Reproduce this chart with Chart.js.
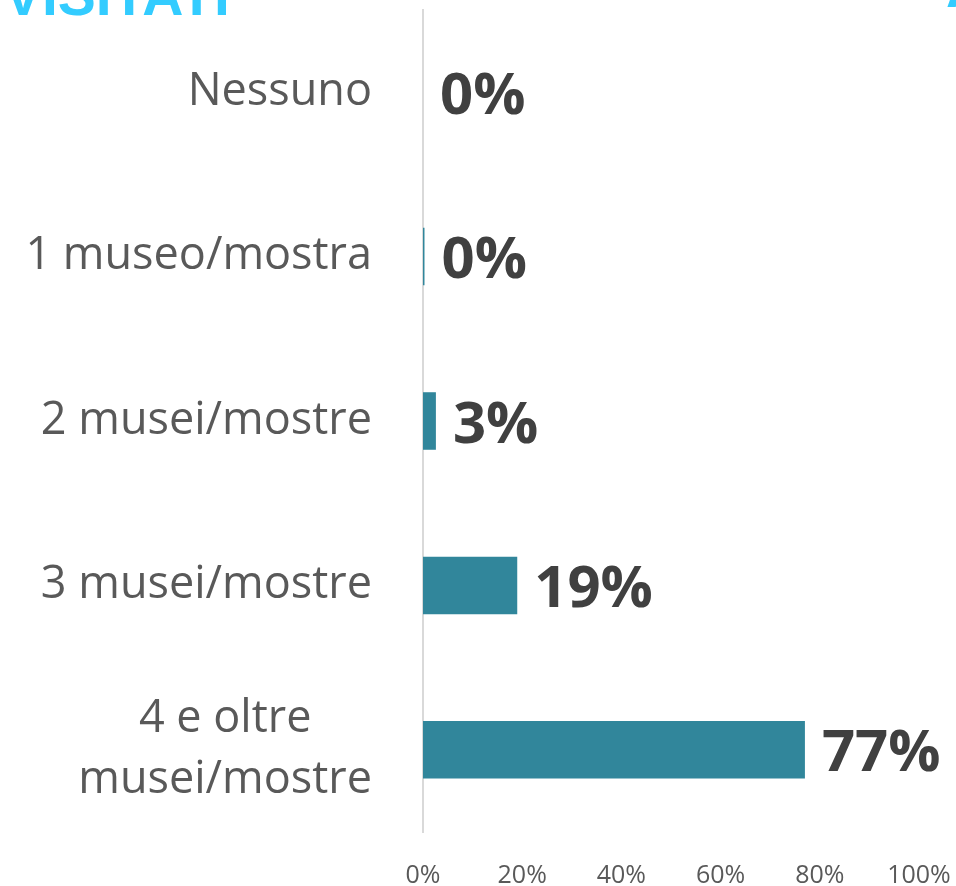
<!DOCTYPE html>
<html>
<head>
<meta charset="utf-8">
<script src="https://cdn.jsdelivr.net/npm/chart.js@4.4.0/dist/chart.umd.min.js"></script>
<style>
  html, body { margin: 0; padding: 0; background: #ffffff; }
  #wrap { position: relative; width: 956px; height: 886px; overflow: hidden; }
</style>
</head>
<body>
<div id="wrap"><canvas id="museumsChart" width="956" height="886"></canvas></div>
<script>
// Data
const categories = [
    'Nessuno',
    '1 museo/mostra',
    '2 musei/mostre',
    '3 musei/mostre',
    ['4 e oltre', 'musei/mostre']
];
const shares = [0, 0.3, 2.6, 19, 77];
const xTicks = [0, 20, 40, 60, 80, 100];

const BAR_COLOR = '#31869b';
const LABEL_GREY = '#595959';
const VALUE_GREY = '#404040';

// Cropped heading pieces at the top edge
const headingPlugin = {
    id: 'heading',
    beforeDraw(chart) {
        const ctx = chart.ctx;
        ctx.save();
        ctx.fillStyle = '#33ccff';
        ctx.font = "bold 57px 'Liberation Sans', Arial, sans-serif";
        ctx.textBaseline = 'alphabetic';
        ctx.textAlign = 'left';
        ctx.fillText('VISITATI', 4, 15);
        ctx.fillText('A', 946, 7);
        ctx.restore();
    }
};

// Category labels, right aligned; wrapped lines centred on each other
const categoryLabelsPlugin = {
    id: 'categoryLabels',
    afterDraw(chart) {
        const ctx = chart.ctx;
        const yScale = chart.scales.y;
        const right = 372;
        const lineHeight = 61;
        ctx.save();
        ctx.font = "45px 'Open Sans', sans-serif";
        ctx.fillStyle = LABEL_GREY;
        ctx.textBaseline = 'middle';
        ctx.textAlign = 'center';
        categories.forEach((label, i) => {
            const lines = Array.isArray(label) ? label : [label];
            const maxW = Math.max(...lines.map(l => ctx.measureText(l).width));
            const cx = right - maxW / 2;
            const cy = yScale.getPixelForValue(i);
            const startY = cy - (lines.length - 1) * lineHeight / 2;
            lines.forEach((line, k) => {
                ctx.fillText(line, cx, startY + k * lineHeight);
            });
        });
        ctx.restore();
    }
};

// Value labels to the right of each bar
const valueLabelsPlugin = {
    id: 'valueLabels',
    afterDatasetsDraw(chart) {
        const ctx = chart.ctx;
        const meta = chart.getDatasetMeta(0);
        ctx.save();
        ctx.font = "bold 58px 'Open Sans', sans-serif";
        ctx.fillStyle = VALUE_GREY;
        ctx.textBaseline = 'middle';
        ctx.textAlign = 'left';
        meta.data.forEach((bar, i) => {
            ctx.fillText(Math.round(shares[i]) + '%', bar.x + 17, bar.y + 5);
        });
        ctx.restore();
    }
};

const chartData = {
    labels: categories,
    datasets: [{
        data: shares,
        backgroundColor: BAR_COLOR,
        borderWidth: 0,
        categoryPercentage: 1,
        barPercentage: 0.35
    }]
};

const options = {
    indexAxis: 'y',
    responsive: false,
    animation: false,
    devicePixelRatio: 1,
    layout: {
        padding: { top: 10, right: 37, bottom: 0, left: 0 }
    },
    plugins: {
        legend: { display: false },
        tooltip: { enabled: false }
    },
    scales: {
        y: {
            ticks: { display: false },
            grid: { display: false },
            border: { display: true, color: '#d9d9d9', width: 2 },
            afterFit(scale) { scale.width = 423; }
        },
        x: {
            min: 0,
            max: 100,
            afterBuildTicks(scale) {
                scale.ticks = xTicks.map(v => ({ value: v }));
            },
            ticks: {
                padding: 21,
                color: LABEL_GREY,
                font: { size: 25, family: "'Open Sans', sans-serif" },
                callback: v => v + '%'
            },
            grid: { display: false },
            border: { display: false },
            afterFit(scale) {
                scale.height = 54;
                scale.paddingLeft = 0;
                scale.paddingRight = 0;
            }
        }
    }
};

new Chart(document.getElementById('museumsChart').getContext('2d'), {
    type: 'bar',
    data: chartData,
    options: options,
    plugins: [headingPlugin, categoryLabelsPlugin, valueLabelsPlugin]
});
</script>
</body>
</html>
